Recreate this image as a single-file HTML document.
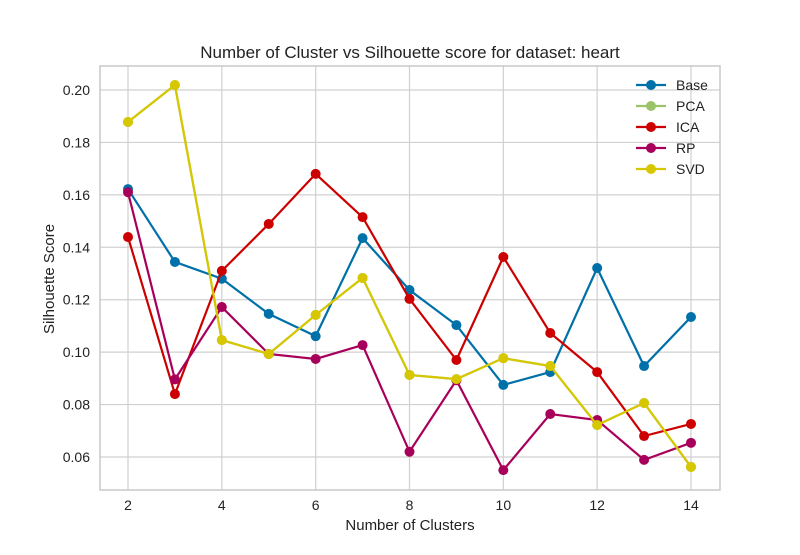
<!DOCTYPE html>
<html><head><meta charset="utf-8"><style>
body{margin:0;background:#fff;font-family:"Liberation Sans",sans-serif}
svg text{font-family:"Liberation Sans",sans-serif;fill:#222}
</style></head><body>
<svg id="chart" width="800" height="550">
<text x="410" y="58" font-size="17" text-anchor="middle">Number of Cluster vs Silhouette score for dataset: heart</text>
<g id="grid"></g><g id="series"></g><g id="axes"></g>
<text x="410" y="530" font-size="15" text-anchor="middle">Number of Clusters</text>
<text x="54" y="279" font-size="15" text-anchor="middle" transform="rotate(-90 54 279)">Silhouette Score</text>
<g id="legend"></g>
</svg>
<script>
const clusters=[2,3,4,5,6,7,8,9,10,11,12,13,14];
const base=[0.1622,0.1344,0.128,0.1146,0.1061,0.1435,0.1237,0.1103,0.0875,0.0924,0.1321,0.0947,0.1134];
const pca=[0.1878,0.2019,0.1046,0.0993,0.1142,0.1283,0.0913,0.0897,0.0977,0.0947,0.0722,0.0806,0.0562];
const ica=[0.1439,0.084,0.131,0.1489,0.168,0.1515,0.1203,0.097,0.1363,0.1073,0.0924,0.068,0.0726];
const rp=[0.161,0.0896,0.1172,0.0993,0.0974,0.1027,0.062,0.0893,0.055,0.0764,0.0741,0.0589,0.0654];
const svd=[0.1878,0.2019,0.1046,0.0993,0.1142,0.1283,0.0913,0.0897,0.0977,0.0947,0.0722,0.0806,0.0562];
const xTicks=[2,4,6,8,10,12,14];
const yTicks=[0.06,0.08,0.10,0.12,0.14,0.16,0.18,0.20];
const seriesNames=["Base","PCA","ICA","RP","SVD"];
const colors=["#0070a8","#9bc46a","#cc0000","#a8005a","#d6c700"];
const allSeries=[base,pca,ica,rp,svd];
const L=100,R=720,T=66,B=490;
const xs=v=>128+(v-2)*(691-128)/12;
const ys=v=>90+(0.20-v)*(457-90)/0.14;
const NS="http://www.w3.org/2000/svg";
function mk(tag,attrs,parent){const e=document.createElementNS(NS,tag);for(const k in attrs)e.setAttribute(k,attrs[k]);parent.appendChild(e);return e;}
const grid=document.getElementById('grid'),axes=document.getElementById('axes'),ser=document.getElementById('series'),leg=document.getElementById('legend');
mk('rect',{x:L,y:T,width:R-L,height:B-T,fill:'#fff'},grid);
xTicks.forEach(t=>{const l=mk('line',{x1:xs(t),x2:xs(t),y1:T,y2:B,stroke:'#d0d0d0','stroke-width':1.2},grid);

const tx=mk('text',{x:xs(t),y:510,'font-size':14,'text-anchor':'middle'},axes);tx.textContent=t;
});
yTicks.forEach(t=>{const l=mk('line',{x1:L,x2:R,y1:ys(t),y2:ys(t),stroke:'#d0d0d0','stroke-width':1.2},grid);

const tx=mk('text',{x:90,y:ys(t)+5,'font-size':14,'text-anchor':'end'},axes);tx.textContent=t.toFixed(2);
});
const fr=mk('rect',{x:L,y:T,width:R-L,height:B-T,fill:'none',stroke:'#c8c8c8','stroke-width':1.5},axes);

allSeries.forEach((d,i)=>{const g=mk('g',{},ser);

const pl=mk('polyline',{points:d.map((v,j)=>xs(clusters[j])+','+ys(v)).join(' '),fill:'none',stroke:colors[i],'stroke-width':2.2},g);

d.forEach((v,j)=>{const c=mk('circle',{cx:xs(clusters[j]),cy:ys(v),r:5,fill:colors[i]},g);
});});
seriesNames.forEach((n,i)=>{const y=85+i*21;const g=mk('g',{},leg);

mk('line',{x1:636,x2:666,y1:y,y2:y,stroke:colors[i],'stroke-width':2.2},g);
mk('circle',{cx:651,cy:y,r:5,fill:colors[i]},g);
const t=mk('text',{x:676,y:y+5,'font-size':14},g);t.textContent=n;});
</script>
</body></html>
